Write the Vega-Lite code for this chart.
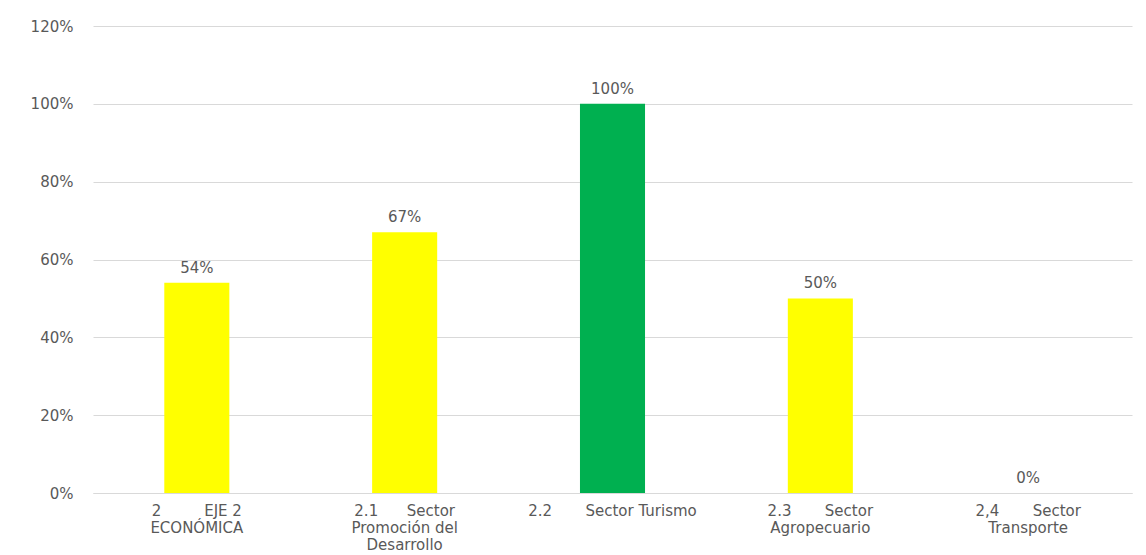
{
  "$schema": "https://vega.github.io/schema/vega-lite/v6.json",
  "width": 1039,
  "height": 467,
  "autosize": "none",
  "padding": {"left": 93, "top": 26, "right": 14, "bottom": 62},
  "background": "white",
  "config": {"view": {"stroke": null}, "font": "DejaVu Sans"},
  "data": {
    "values": [
      {"cat": "2\u00a0\u00a0\u00a0\u00a0\u00a0\u00a0\u00a0\u00a0\u00a0EJE 2|ECONÓMICA", "value": 0.54, "color": "yellow"},
      {"cat": "2.1\u00a0\u00a0\u00a0\u00a0\u00a0\u00a0Sector|Promoción del|Desarrollo", "value": 0.67, "color": "yellow"},
      {"cat": "2.2\u00a0\u00a0\u00a0\u00a0\u00a0\u00a0\u00a0Sector Turismo", "value": 1.0, "color": "green"},
      {"cat": "2.3\u00a0\u00a0\u00a0\u00a0\u00a0\u00a0\u00a0Sector|Agropecuario", "value": 0.5, "color": "yellow"},
      {"cat": "2,4\u00a0\u00a0\u00a0\u00a0\u00a0\u00a0\u00a0Sector|Transporte", "value": 0.0, "color": "yellow"}
    ]
  },
  "encoding": {
    "x": {
      "field": "cat", "type": "nominal", "sort": null, "title": null,
      "scale": {"paddingInner": 0.687, "paddingOuter": 0.343},
      "axis": {
        "labelExpr": "split(datum.label, '|')",
        "labelAngle": 0, "labelColor": "#595959", "labelFontSize": 15,
        "labelLineHeight": 17, "labelPadding": 10, "ticks": false,
        "domainColor": "#D9D9D9", "labelFont": "DejaVu Sans"
      }
    },
    "y": {
      "field": "value", "type": "quantitative", "title": null,
      "scale": {"domain": [0, 1.2], "nice": false},
      "axis": {
        "format": ".0%", "values": [0, 0.2, 0.4, 0.6, 0.8, 1.0, 1.2],
        "domain": false, "ticks": false, "labelPadding": 20,
        "gridColor": "#D9D9D9", "labelColor": "#595959", "labelFontSize": 15,
        "labelFont": "DejaVu Sans"
      }
    }
  },
  "layer": [
    {
      "mark": {"type": "bar"},
      "encoding": {
        "color": {"field": "color", "type": "nominal", "legend": null,
          "scale": {"domain": ["yellow", "green"], "range": ["#FFFF00", "#00B050"]}}
      }
    },
    {
      "mark": {"type": "text", "baseline": "bottom", "dy": -7, "fontSize": 15, "color": "#595959"},
      "encoding": {"text": {"field": "value", "type": "quantitative", "format": ".0%"}}
    }
  ]
}
